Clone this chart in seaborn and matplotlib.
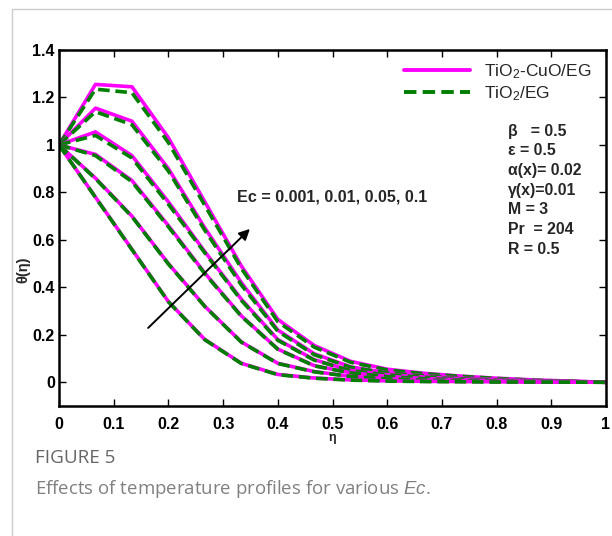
import numpy as np
import pandas as pd
import matplotlib
matplotlib.use("Agg")
import matplotlib.pyplot as plt
import seaborn as sns
from matplotlib.lines import Line2D

# ---------------- data ----------------
eta = [0, 1/15, 2/15, 3/15, 4/15, 5/15, 6/15, 7/15, 8/15, 9/15, 10/15, 11/15, 12/15, 13/15, 14/15, 1.0]

hybrid_1 = [1, 1.255, 1.245, 1.03, 0.76, 0.49, 0.265, 0.155, 0.088, 0.055, 0.038, 0.026, 0.017, 0.010, 0.005, 0.0]
hybrid_2 = [1, 1.155, 1.100, 0.90, 0.65, 0.42, 0.22, 0.120, 0.065, 0.040, 0.028, 0.018, 0.012, 0.007, 0.004, 0.0]
hybrid_3 = [1, 1.055, 0.955, 0.76, 0.55, 0.35, 0.18, 0.095, 0.050, 0.032, 0.022, 0.015, 0.010, 0.006, 0.003, 0.0]
hybrid_4 = [1, 0.960, 0.850, 0.66, 0.46, 0.28, 0.14, 0.070, 0.040, 0.025, 0.016, 0.011, 0.007, 0.004, 0.002, 0.0]
hybrid_5 = [1, 0.860, 0.700, 0.50, 0.32, 0.17, 0.08, 0.045, 0.025, 0.015, 0.010, 0.007, 0.005, 0.003, 0.001, 0.0]
hybrid_6 = [1, 0.780, 0.560, 0.34, 0.18, 0.08, 0.033, 0.018, 0.010, 0.006, 0.004, 0.003, 0.002, 0.001, 0.0005, 0.0]

mono_1 = [1, 1.235, 1.220, 1.01, 0.745, 0.48, 0.255, 0.148, 0.084, 0.052, 0.036, 0.025, 0.016, 0.009, 0.004, 0.0]
mono_2 = [1, 1.140, 1.085, 0.89, 0.64, 0.41, 0.215, 0.116, 0.063, 0.039, 0.027, 0.017, 0.011, 0.006, 0.003, 0.0]
mono_3 = [1, 1.040, 0.945, 0.75, 0.545, 0.345, 0.177, 0.093, 0.049, 0.031, 0.021, 0.014, 0.009, 0.005, 0.003, 0.0]
mono_4 = [1, 0.955, 0.845, 0.655, 0.457, 0.278, 0.139, 0.069, 0.039, 0.024, 0.015, 0.010, 0.006, 0.004, 0.002, 0.0]
mono_5 = [1, 0.858, 0.698, 0.498, 0.319, 0.169, 0.079, 0.044, 0.024, 0.014, 0.009, 0.006, 0.004, 0.002, 0.001, 0.0]
mono_6 = [1, 0.779, 0.559, 0.339, 0.179, 0.079, 0.032, 0.017, 0.009, 0.005, 0.003, 0.002, 0.001, 0.001, 0.0005, 0.0]

hybrid_curves = [hybrid_1, hybrid_2, hybrid_3, hybrid_4, hybrid_5, hybrid_6]
mono_curves = [mono_1, mono_2, mono_3, mono_4, mono_5, mono_6]

series_labels = ["TiO$_2$-CuO/EG", "TiO$_2$/EG"]
x_ticks = [0, 0.1, 0.2, 0.3, 0.4, 0.5, 0.6, 0.7, 0.8, 0.9, 1.0]
x_ticklabels = ["0", "0.1", "0.2", "0.3", "0.4", "0.5", "0.6", "0.7", "0.8", "0.9", "1"]
y_ticks = [0, 0.2, 0.4, 0.6, 0.8, 1.0, 1.2, 1.4]
y_ticklabels = ["0", "0.2", "0.4", "0.6", "0.8", "1", "1.2", "1.4"]
param_lines = ["β   = 0.5", "ε = 0.5", "α(x)= 0.02", "γ(x)=0.01", "M = 3", "Pr  = 204", "R = 0.5"]
ec_label = "Ec = 0.001, 0.01, 0.05, 0.1"

# ---------------- style ----------------
sns.set_theme(style="white")
plt.rcParams['font.family'] = ['Liberation Sans', 'DejaVu Sans']
plt.rcParams['mathtext.fontset'] = 'custom'
plt.rcParams['mathtext.rm'] = 'Liberation Sans'
plt.rcParams['mathtext.it'] = 'Liberation Sans:italic'

MAGENTA = "#FF00FF"
GREEN = "#007F00"
DASH = (0, (3.2, 1.6))

fig = plt.figure(figsize=(6.12, 5.36), dpi=100)
ax = fig.add_axes([59/612, 130/536, 547/612, 356/536])

for i, (h, m) in enumerate(zip(hybrid_curves, mono_curves)):
    dfh = pd.DataFrame({"eta": eta, "theta": h})
    dfm = pd.DataFrame({"eta": eta, "theta": m})
    sns.lineplot(data=dfh, x="eta", y="theta", ax=ax, color=MAGENTA, linewidth=2.6,
                 sort=False, estimator=None)
    sns.lineplot(data=dfm, x="eta", y="theta", ax=ax, color=GREEN, linewidth=2.6,
                 linestyle=DASH, sort=False, estimator=None)

ax.set_xlim(0, 1)
ax.set_ylim(-0.1, 1.4)
ax.set_xticks(x_ticks)
ax.set_xticklabels(x_ticklabels, fontsize=11.5, fontweight="bold")
ax.set_yticks(y_ticks)
ax.set_yticklabels(y_ticklabels, fontsize=11.5, fontweight="bold")
ax.tick_params(direction="in", length=5, width=1, top=True, right=True,
               bottom=True, left=True, colors="black")
ax.tick_params(axis="x", pad=8)
ax.tick_params(axis="y", pad=3)
for s in ax.spines.values():
    s.set_color("black")
    s.set_linewidth(1.8)

ax.set_xlabel("η", fontsize=9, fontweight="bold", labelpad=0)
ax.set_ylabel("θ(η)", fontsize=10.5, fontweight="bold")
ax.yaxis.set_label_coords(-0.053, 0.382)

# legend
handles = [Line2D([0], [0], color=MAGENTA, lw=2.8),
           Line2D([0], [0], color=GREEN, lw=2.8, linestyle=DASH)]
leg = ax.legend(handles, series_labels, loc="upper right", bbox_to_anchor=(0.995, 1.0),
                frameon=False, fontsize=12.5, handlelength=3.8, handletextpad=0.8,
                labelspacing=0.2, borderaxespad=0.3)

# parameters
for k, t in enumerate(param_lines):
    ax.text(0.82, 0.772 - k * 0.0553, t, transform=ax.transAxes, fontsize=11.4,
            fontweight="bold", ha="left", va="center")

ax.text(0.326, 0.587, ec_label, transform=ax.transAxes, fontsize=11.6,
        fontweight="bold", ha="left", va="center")

ax.annotate("", xy=(0.349, 0.646), xytext=(0.163, 0.229),
            arrowprops=dict(arrowstyle="-|>", color="black", lw=1.4,
                            mutation_scale=16, shrinkA=0, shrinkB=0))

# caption
fig.text(35/612, 1 - 458/536, "FIGURE 5", fontsize=13.6, color="#666666",
         family=["Open Sans", "DejaVu Sans"], ha="left", va="center")
fig.text(35/612, 1 - 489/536, "Effects of temperature profiles for various $\\mathit{Ec}$.",
         fontsize=13.4, color="#808080", family=["Open Sans", "DejaVu Sans"],
         ha="left", va="center")

# card border
fig.add_artist(Line2D([12/612, 12/612], [0, 1 - 9/536], transform=fig.transFigure,
                      color="#cccccc", lw=1))
fig.add_artist(Line2D([12/612, 1], [1 - 9/536, 1 - 9/536], transform=fig.transFigure,
                      color="#cccccc", lw=1))

fig.savefig("out.png", dpi=100)
